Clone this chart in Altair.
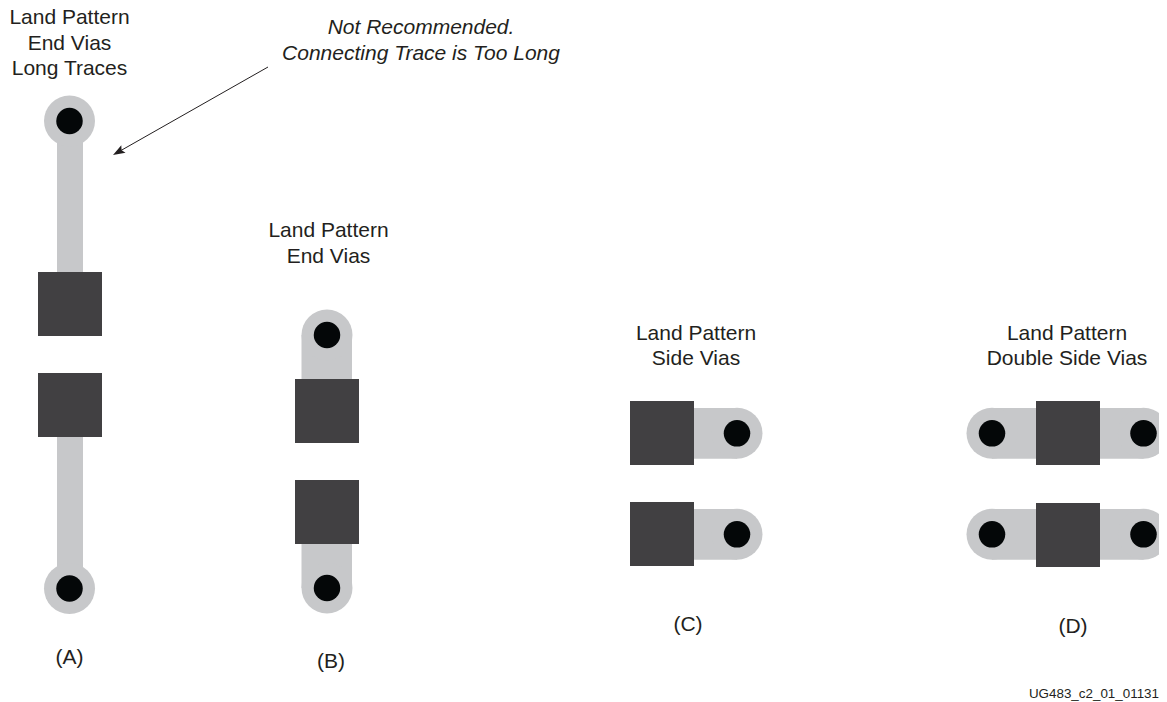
import altair as alt
import pandas as pd

# Diagram coordinates
pad_left = [38, 38, 295, 295, 630, 630, 1036, 1036]
pad_right = [102, 102, 359, 359, 694, 694, 1100, 1100]
pad_top = [272, 373, 379, 480, 401, 502, 401, 503]
pad_bottom = [336, 437, 443, 544, 465, 566, 465, 567]

trace_left = [57, 57, 301.5, 301.5, 694, 694, 992, 1100, 992, 1100]
trace_right = [83, 83, 352, 352, 737, 737, 1036, 1143.5, 1036, 1143.5]
trace_top = [121, 437, 335, 544, 408, 509, 408, 408, 509, 509]
trace_bottom = [272, 589, 379, 588, 458.7, 559.7, 458.7, 458.7, 559.7, 559.7]

via_x = [69.5, 69.5, 327, 327, 737, 737, 992, 1143.5, 992, 1143.5]
via_y = [121, 588.5, 335, 588, 433.3, 534.3, 433.3, 433.3, 534.3, 534.3]

label_x = [69.5, 69.5, 69.5, 328.5, 328.5, 696, 696, 1067, 1067, 69.5, 331, 688, 1073]
label_y = [24, 50, 75, 237, 262.5, 340, 365, 340, 365, 664, 668, 631, 633]
label_text = [
    "Land Pattern", "End Vias", "Long Traces",
    "Land Pattern", "End Vias",
    "Land Pattern", "Side Vias",
    "Land Pattern", "Double Side Vias",
    "(A)", "(B)", "(C)", "(D)",
]

note_x = [421, 421]
note_y = [33.5, 59.5]
note_text = ["Not Recommended.", "Connecting Trace is Too Long"]

id_x = [1159]
id_y = [698]
id_text = ["UG483_c2_01_01131"]

arrow_x = [268]
arrow_y = [67]
arrow_x2 = [116]
arrow_y2 = [153.3]
tip_x = [113]
tip_y = [155]

LIGHT = "#C7C8CA"
DARK = "#414042"
BLACK = "#040708"
INK = "#231F20"
FONT = "Liberation Sans"

xs = alt.Scale(domain=[8, 1159])
ys = alt.Scale(domain=[702, 8])


def X(name):
    return alt.X(name, type="quantitative", scale=xs, axis=None)


def Y(name):
    return alt.Y(name, type="quantitative", scale=ys, axis=None)


pads = pd.DataFrame({"x": pad_left, "x2": pad_right, "y": pad_top, "y2": pad_bottom})
traces = pd.DataFrame({"x": trace_left, "x2": trace_right, "y": trace_top, "y2": trace_bottom})
vias = pd.DataFrame({"x": via_x, "y": via_y})
labels = pd.DataFrame({"x": label_x, "y": label_y, "t": label_text})
notes = pd.DataFrame({"x": note_x, "y": note_y, "t": note_text})
ids = pd.DataFrame({"x": id_x, "y": id_y, "t": id_text})
arrow = pd.DataFrame({"x": arrow_x, "y": arrow_y, "x2": arrow_x2, "y2": arrow_y2})
tip = pd.DataFrame({"x": tip_x, "y": tip_y})


def rects(df, color):
    return alt.Chart(df).mark_rect(color=color, strokeWidth=0).encode(
        x=X("x"), x2="x2", y=Y("y"), y2="y2"
    )


def dots(df, diameter, color):
    return alt.Chart(df).mark_point(
        shape="circle", filled=True, opacity=1, color=color, size=diameter ** 2, strokeWidth=0
    ).encode(x=X("x"), y=Y("y"))


def texts(df, size, align="center", style="normal"):
    return alt.Chart(df).mark_text(
        font=FONT, fontSize=size, fontStyle=style, color=INK, align=align, baseline="alphabetic"
    ).encode(x=X("x"), y=Y("y"), text="t:N")


line = alt.Chart(arrow).mark_rule(color=INK, strokeWidth=1).encode(
    x=X("x"), y=Y("y"), x2="x2", y2="y2"
)
head = alt.Chart(tip).mark_point(
    shape="M0,0 L0.36,1 L0,0.82 L-0.36,1 Z",
    filled=True, opacity=1, color=INK, size=576, angle=240.4, strokeWidth=0,
).encode(x=X("x"), y=Y("y"))

chart = alt.layer(
    rects(traces, LIGHT),
    dots(vias, 51, LIGHT),
    rects(pads, DARK),
    dots(vias, 26.5, BLACK),
    line,
    head,
    texts(labels, 21),
    texts(notes, 21, style="italic"),
    texts(ids, 13.4, align="right"),
).properties(
    width=1151, height=694, padding=0, background="white",
    autosize=alt.AutoSizeParams(type="none"),
).configure_view(stroke=None)

chart.save("out.html", embed_options={"renderer": "svg", "actions": False})
